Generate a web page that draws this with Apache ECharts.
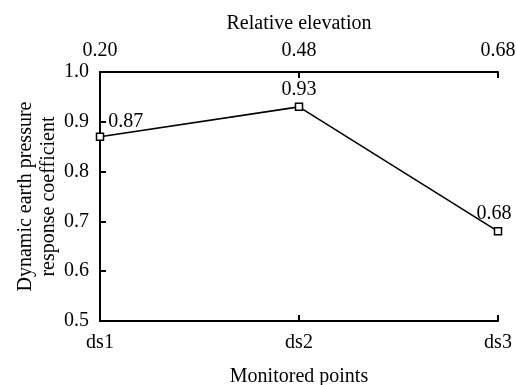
<!DOCTYPE html>
<html><head><meta charset="utf-8">
<script src="https://cdn.jsdelivr.net/npm/echarts@6/dist/echarts.min.js"></script>
<style>html,body{margin:0;padding:0;background:#fff}#c{width:516px;height:385px}</style>
</head><body><div id="c"></div>
<script>
const categories = ['ds1', 'ds2', 'ds3'];
const topLabels = ['0.20', '0.48', '0.68'];
const values = [0.87, 0.93, 0.68];
const yTicks = { min: 0.5, max: 1.0, interval: 0.1 };

const F = 'Liberation Serif, Times New Roman, serif';
const FS = 20;
const chart = echarts.init(document.getElementById('c'));
chart.setOption({
  animation: false,
  textStyle: { fontFamily: F },
  grid: { left: 100, right: 18, top: 72, bottom: 64, containLabel: false, outerBoundsMode: 'none' },
  xAxis: [{
    type: 'category', data: categories, boundaryGap: false, position: 'bottom',
    name: 'Monitored points', nameLocation: 'middle', nameGap: 46, nameMoveOverlap: false,
    nameTextStyle: { fontFamily: F, fontSize: FS, color: '#000' },
    axisLine: { lineStyle: { color: '#000', width: 2 } },
    axisTick: { inside: true, length: 6, lineStyle: { color: '#000', width: 2 } },
    axisLabel: { fontFamily: F, fontSize: FS, color: '#000', margin: 12 },
    splitLine: { show: false }
  }, {
    type: 'category', data: topLabels, boundaryGap: false, position: 'top',
    name: 'Relative elevation', nameLocation: 'middle', nameGap: 38, nameMoveOverlap: false,
    nameTextStyle: { fontFamily: F, fontSize: FS, color: '#000' },
    axisLine: { lineStyle: { color: '#000', width: 2 } },
    axisTick: { inside: true, length: 6, lineStyle: { color: '#000', width: 2 } },
    axisLabel: { fontFamily: F, fontSize: FS, color: '#000', margin: 11 },
    splitLine: { show: false }
  }],
  yAxis: {
    type: 'value', min: yTicks.min, max: yTicks.max, interval: yTicks.interval,
    name: 'Dynamic earth pressure\nresponse coefficient', nameLocation: 'middle', nameGap: 40,
    nameMoveOverlap: false,
    nameTextStyle: { fontFamily: F, fontSize: FS, color: '#000', lineHeight: 23 },
    axisLine: { show: true, lineStyle: { color: '#000', width: 2 } },
    axisTick: { show: true, inside: true, length: 6, lineStyle: { color: '#000', width: 2 } },
    axisLabel: { fontFamily: F, fontSize: FS, color: '#000', margin: 11,
      formatter: v => v.toFixed(1) },
    splitLine: { show: false }
  },
  series: [{
    type: 'line', xAxisIndex: 0,
    symbol: 'rect', symbolSize: 7,
    lineStyle: { color: '#000', width: 1.6 },
    itemStyle: { color: '#fff', borderColor: '#000', borderWidth: 1.5 },
    label: {
      show: true, fontFamily: F, fontSize: FS, color: '#000',
      formatter: p => p.value.toFixed(2)
    },
    data: [
      { value: values[0], label: { position: 'right', distance: 4, offset: [0, -15] } },
      { value: values[1], label: { position: 'top', distance: 3 } },
      { value: values[2], label: { position: 'top', distance: 3, offset: [-4, 0] } }
    ]
  }]
});
</script></body></html>
